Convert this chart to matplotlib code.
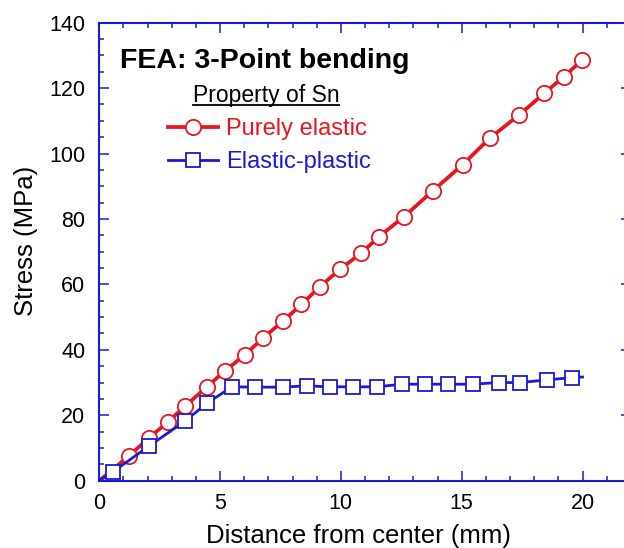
import numpy as np
from matplotlib import pyplot as plt
from matplotlib.lines import Line2D

plt.rcParams['font.family'] = ['Liberation Sans', 'DejaVu Sans']

# Purely elastic (red circles)
x_elastic = [0.0, 1.23, 2.06, 2.83, 3.57, 4.44, 5.21, 6.03, 6.79, 7.61, 8.37, 9.13,
             9.96, 10.83, 11.58, 12.61, 13.82, 15.04, 16.16, 17.36, 18.41, 19.23, 19.98]
y_elastic = [0.0, 7.6, 13.1, 17.9, 22.9, 28.6, 33.6, 38.5, 43.7, 48.8, 53.9, 59.3,
             64.6, 69.5, 74.6, 80.7, 88.7, 96.6, 104.7, 111.7, 118.4, 123.5, 128.6]

# Elastic-plastic (blue squares)
x_plastic = [0.0, 0.55, 2.06, 3.55, 4.48, 5.50, 6.44, 7.59, 8.58, 9.54, 10.51, 11.50,
             12.51, 13.48, 14.44, 15.45, 16.54, 17.41, 18.51, 19.55, 20.0]
y_plastic = [0.0, 2.6, 10.6, 18.2, 23.8, 28.7, 28.6, 28.6, 29.0, 28.7, 28.7, 28.7,
             29.5, 29.5, 29.5, 29.5, 30.0, 30.0, 30.8, 31.5, 31.7]

labels = ['Purely elastic', 'Elastic-plastic']
red = '#e8141e'
blue = '#1a1ad2'

fig = plt.figure(figsize=(6.24, 5.48), dpi=100)
ax = fig.add_axes([0.159, 0.1228, 0.852, 0.8358])

ax.plot(x_elastic, y_elastic, color=red, lw=2.7, marker='o', ms=11,
        mfc='white', mec=red, mew=1.3, markevery=list(range(1, len(x_elastic))),
        label=labels[0])
ax.plot(x_plastic, y_plastic, color=blue, lw=2.0, marker='s', ms=10,
        mfc='white', mec=blue, mew=1.3, markevery=list(range(1, len(x_plastic) - 1)),
        label=labels[1])

ax.set_xlim(0, 22)
ax.set_ylim(0, 140)
ax.set_xticks([0, 5, 10, 15, 20])
ax.set_xticks(np.arange(0, 23, 1), minor=True)
ax.set_yticks(np.arange(0, 141, 20))
ax.set_yticks(np.arange(0, 141, 5), minor=True)

for s in ax.spines.values():
    s.set_color(blue)
    s.set_linewidth(1.5)
ax.tick_params(which='both', direction='in', color=blue, top=True, right=True,
               labelsize=15.5, width=1.1)
ax.tick_params(which='major', length=7)
ax.tick_params(which='minor', length=3.5)
ax.tick_params(axis='x', pad=9)
ax.tick_params(axis='y', pad=10)

ax.set_xlabel('Distance from center (mm)', fontsize=18.5)
ax.set_ylabel('Stress (MPa)', fontsize=18.5)
ax.xaxis.set_label_coords(0.4875, -0.094)
ax.yaxis.set_label_coords(-0.115, 0.523)

ax.text(0.039, 0.901, 'FEA: 3-Point bending', transform=ax.transAxes,
        fontsize=20.5, fontweight='bold', va='baseline', ha='left')
ttl = ax.text(0.176, 0.827, 'Property of Sn', transform=ax.transAxes,
              fontsize=16.5, va='baseline', ha='left')

leg = ax.legend(loc='upper left', bbox_to_anchor=(0.1115, 0.813), frameon=False,
                fontsize=17, handlelength=2.1, handletextpad=0.35,
                labelspacing=0.49, labelcolor='linecolor', borderaxespad=0)

# underline the legend heading
fig.canvas.draw()
bb = ttl.get_window_extent().transformed(fig.transFigure.inverted())
fig.add_artist(Line2D([bb.x0, bb.x1], [bb.y0 + 0.003, bb.y0 + 0.003],
                      color='black', lw=1.3, transform=fig.transFigure))

fig.savefig('out.png', dpi=100)
